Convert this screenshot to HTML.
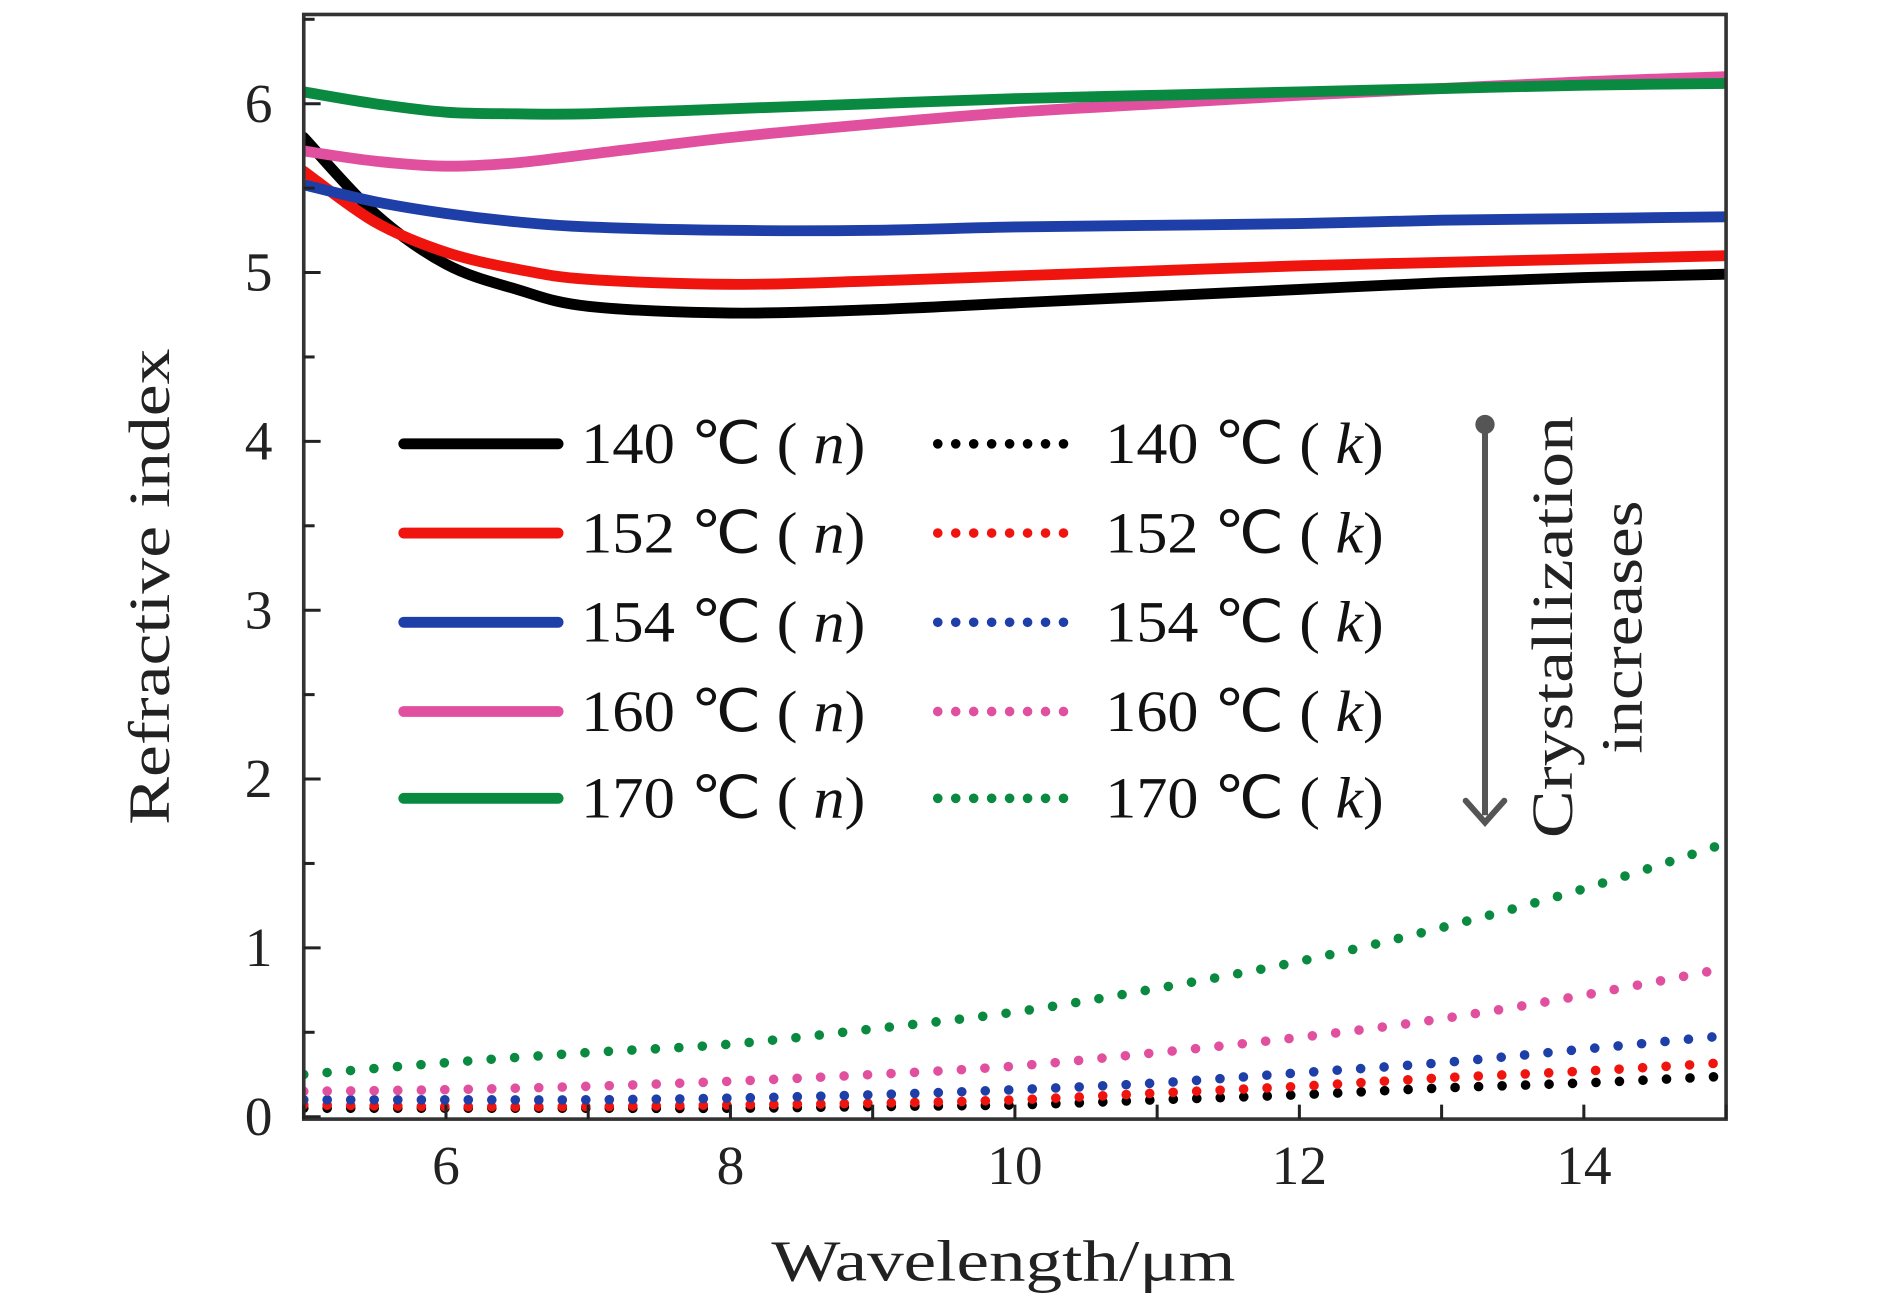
<!DOCTYPE html>
<html><head><meta charset="utf-8"><style>
html,body{margin:0;padding:0;background:#fff;}
svg{display:block;font-family:"Liberation Serif",serif;}
</style></head><body>
<svg id="chart" width="1890" height="1300" viewBox="0 0 1568 1078" preserveAspectRatio="none" xmlns="http://www.w3.org/2000/svg">
<g id="plot"></g>
</svg>
<script>
const xs = [5,5.5,6,6.5,7,8,9,10,11,12,13,14,15];
const nBlack = [5.8,5.35,5.05,4.9,4.8,4.76,4.78,4.82,4.86,4.9,4.94,4.97,4.99];
const nRed = [5.6,5.3,5.12,5.02,4.96,4.93,4.95,4.98,5.01,5.04,5.06,5.08,5.1];
const nBlue = [5.52,5.42,5.35,5.3,5.27,5.25,5.25,5.27,5.28,5.29,5.31,5.32,5.33];
const nPink = [5.72,5.66,5.63,5.65,5.7,5.8,5.88,5.95,6.0,6.05,6.09,6.13,6.16];
const nGreen = [6.07,6.0,5.95,5.94,5.94,5.97,6.0,6.03,6.05,6.07,6.09,6.11,6.12];
const kx = [5,6,7,8,9,10,11,12,13,14,15];
const kGreen = [0.25,0.32,0.38,0.43,0.52,0.62,0.76,0.92,1.12,1.35,1.62];
const kPink = [0.15,0.16,0.18,0.21,0.25,0.3,0.38,0.47,0.58,0.72,0.88];
const kBlue = [0.1,0.1,0.1,0.11,0.13,0.16,0.2,0.26,0.32,0.4,0.48];
const kRed = [0.07,0.06,0.06,0.07,0.08,0.1,0.14,0.18,0.23,0.27,0.32];
const kBlack = [0.05,0.05,0.05,0.05,0.06,0.07,0.1,0.13,0.17,0.2,0.24];
const xTicks = [6,8,10,12,14];
const yTicks = [0,1,2,3,4,5,6];
const legendLabels = ["140","152","154","160","170"];

const NS="http://www.w3.org/2000/svg";
const g=document.getElementById('plot');
const L=252,R=1432,T=12,B=928;
const X=v=>L+(v-5)/10*(R-L);
const Y=v=>926-v*140;
function mk(tag,attrs,parent){const e=document.createElementNS(NS,tag);for(const k in attrs)e.setAttribute(k,attrs[k]);(parent||g).appendChild(e);return e;}
function smooth(px,py){
  const p=px.map((x,i)=>[X(x),Y(py[i])]);
  let d=`M${p[0][0]},${p[0][1]}`;
  for(let i=0;i<p.length-1;i++){
    const p0=p[i-1]||p[i],p1=p[i],p2=p[i+1],p3=p[i+2]||p2;
    const c1=[p1[0]+(p2[0]-p0[0])/6,p1[1]+(p2[1]-p0[1])/6];
    const c2=[p2[0]-(p3[0]-p1[0])/6,p2[1]-(p3[1]-p1[1])/6];
    d+=` C${c1[0]},${c1[1]} ${c2[0]},${c2[1]} ${p2[0]},${p2[1]}`;
  }
  return d;
}
const clip=mk('clipPath',{id:'cp'});mk('rect',{x:L,y:T,width:R-L,height:B-T},clip);
const series=[
 ['black','#000',nBlack,kBlack],['red','#f0140f',nRed,kRed],['blue','#1f3fa8',nBlue,kBlue],
 ['pink','#e0509f',nPink,kPink],['green','#0a8a40',nGreen,kGreen]];
const lines=mk('g',{'clip-path':'url(#cp)'});


series.forEach(s=>{
  const k=mk('path',{d:smooth(kx,s[3]),fill:'none',stroke:s[1],'stroke-width':8,'stroke-linecap':'round','stroke-dasharray':'0 19.5'},lines);
  
  
});
series.forEach(s=>{
  const n=mk('path',{d:smooth(xs,s[2]),fill:'none',stroke:s[1],'stroke-width':9,'stroke-linecap':'round'},lines);
  
  
});
const fr=mk('rect',{x:L,y:T,width:R-L,height:B-T,fill:'none',stroke:'#333',"stroke-width":3});


for(let v=5;v<=15;v++){mk('line',{x1:X(v),x2:X(v),y1:B,y2:B-12,stroke:'#222','stroke-width':2.5});}
for(let v=0;v<=6.5;v+=0.5){mk('line',{x1:L,x2:L+(v%1===0?14:9),y1:Y(v),y2:Y(v),stroke:'#222','stroke-width':2.5});}
xTicks.forEach(v=>{const t=mk('text',{x:X(v),y:982,'font-size':46,'text-anchor':'middle',fill:'#222'});t.textContent=v;
 
 });
yTicks.forEach(v=>{const t=mk('text',{x:226,y:Y(v)+15,'font-size':46,'text-anchor':'end',fill:'#222'});t.textContent=v;
 
 });
const xt=mk('text',{x:640,y:1062,'font-size':48,fill:'#222',textLength:385,lengthAdjust:'spacingAndGlyphs'});xt.textContent='Wavelength/μm';


const yt=mk('text',{x:-197,y:0,'font-size':48,fill:'#222',textLength:395,lengthAdjust:'spacingAndGlyphs',transform:'translate(140,487) rotate(-90)'});yt.textContent='Refractive index';


const lg=mk('g',{});


const ly=[368,442,516,590,662];
series.forEach((s,i)=>{
  mk('line',{x1:335,x2:463,y1:ly[i],y2:ly[i],stroke:s[1],'stroke-width':9,'stroke-linecap':'round'},lg);
  mk('line',{x1:778,x2:897,y1:ly[i],y2:ly[i],stroke:s[1],'stroke-width':8,'stroke-linecap':'round','stroke-dasharray':'0 14.9'},lg);
  const t1=mk('text',{x:482,y:ly[i]+16,'font-size':48,fill:'#111',textLength:236,lengthAdjust:'spacingAndGlyphs'},lg);
  t1.innerHTML=legendLabels[i]+' ℃  ( <tspan font-style="italic">n</tspan>)';
  
  
  const t2=mk('text',{x:917,y:ly[i]+16,'font-size':48,fill:'#111',textLength:231,lengthAdjust:'spacingAndGlyphs'},lg);
  t2.innerHTML=legendLabels[i]+' ℃  ( <tspan font-style="italic">k</tspan>)';
  
  
});
const ar=mk('g',{});


mk('circle',{cx:1232,cy:352,r:8,fill:'#555'},ar);
mk('line',{x1:1232,x2:1232,y1:352,y2:676,stroke:'#555','stroke-width':5},ar);
mk('path',{d:'M1216,664 L1232,682 L1248,664',fill:'none',stroke:'#555','stroke-width':5,'stroke-linecap':'round'},ar);
const c1=mk('text',{x:-175,y:0,'font-size':48,fill:'#222',textLength:350,lengthAdjust:'spacingAndGlyphs',transform:'translate(1304,520) rotate(-90)'});c1.textContent='Crystallization';


const c2=mk('text',{x:-105,y:0,'font-size':48,fill:'#222',textLength:210,lengthAdjust:'spacingAndGlyphs',transform:'translate(1362,520) rotate(-90)'});c2.textContent='increases';


</script>
</body></html>
